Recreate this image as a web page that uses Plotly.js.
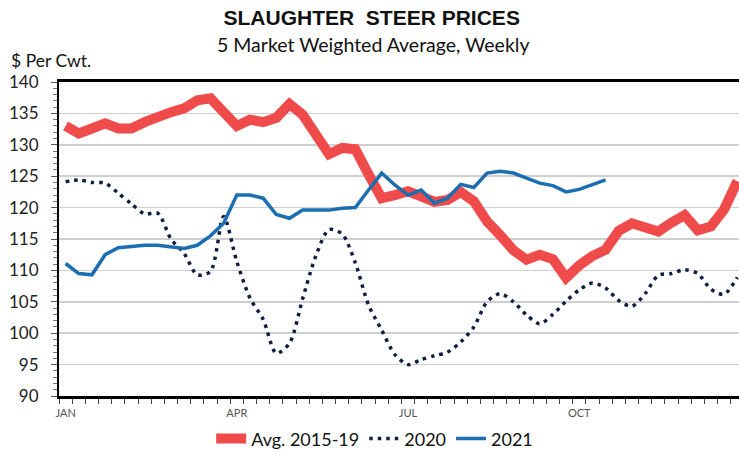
<!DOCTYPE html>
<html><head><meta charset="utf-8">
<script src="https://cdn.plot.ly/plotly-3.0.1.min.js"></script>
<style>body{margin:0;background:#fff}#chart{width:739px;height:452px}</style>
</head><body><div id="chart"></div>
<script>
const weeks = [1,2,3,4,5,6,7,8,9,10,11,12,13,14,15,16,17,18,19,20,21,22,23,24,25,26,
  27,28,29,30,31,32,33,34,35,36,37,38,39,40,41,42,43,44,45,46,47,48,49,50,51,52];
const monthTickWeeks = [1, 14, 27, 40];
const monthTickLabels = ["JAN", "APR", "JUL", "OCT"];

const avg2015_19 = [133.0,131.8,132.6,133.4,132.6,132.6,133.6,134.6,135.2,135.8,137.1,137.4,
  135.2,133.0,134.0,133.6,134.3,136.5,134.8,131.5,128.5,129.5,129.3,125.3,121.5,122.0,
  122.6,121.8,120.9,121.2,122.5,121.0,117.8,115.6,113.2,111.7,112.5,111.8,108.8,110.8,
  112.3,113.3,116.3,117.5,116.8,116.2,117.6,118.8,116.4,117.0,119.7,124.2];
const y2020 = [124.1,124.4,124.0,123.9,122.3,120.6,119.0,119.1,115.0,112.7,109.3,109.8,
  118.6,111.4,105.6,102.2,96.8,98.4,105.5,112.3,116.5,115.8,111.2,104.5,100.5,96.6,
  95.0,95.8,96.4,97.0,98.6,101.0,105.0,106.3,105.0,102.9,101.5,103.0,105.1,106.9,
  108.0,107.2,105.2,104.3,106.3,109.2,109.5,110.1,109.5,107.0,106.2,108.9];
const y2021 = [111.1,109.5,109.3,112.5,113.6,113.8,114.0,114.0,113.8,113.5,114.0,115.5,
  117.5,122.0,122.0,121.5,118.9,118.3,119.6,119.6,119.6,119.9,120.0,122.8,125.5,123.6,
  122.0,122.8,120.7,121.5,123.7,123.2,125.5,125.8,125.5,124.7,123.9,123.5,122.5,122.9,
  123.6,124.4];

const traces = [
  {x: weeks, y: avg2015_19, name: "Avg. 2015-19", type: "scatter", mode: "lines",
   line: {color: "#F04B4B", width: 10}},
  {x: weeks, y: y2020, name: "2020", type: "scatter", mode: "lines",
   line: {color: "#0E1E45", width: 3.5, dash: "3.5px,5px", shape: "spline", smoothing: 0.8}},
  {x: weeks.slice(0, y2021.length), y: y2021, name: "2021", type: "scatter", mode: "lines",
   line: {color: "#1B6EB0", width: 3.5}}
];

const layout = {
  width: 739, height: 452,
  margin: {l: 59, r: 0, t: 82, b: 56},
  paper_bgcolor: "#fff", plot_bgcolor: "#fff",
  showlegend: true,
  font: {family: "Lato, 'Open Sans', sans-serif", color: "#222"},
  title: {text: "SLAUGHTER  STEER PRICES", x: 0.503, xanchor: "center", y: 0.962, yanchor: "middle",
    font: {family: "'Liberation Sans', Arial, sans-serif", size: 21, color: "#111", weight: "bold"}},
  xaxis: {
    range: [0.5, 52.13], showgrid: false, zeroline: false,
    showline: true, linecolor: "#000", linewidth: 3, mirror: true,
    tickmode: "array", tickvals: monthTickWeeks, ticktext: monthTickLabels,
    ticks: "outside", ticklen: 5, tickcolor: "rgba(0,0,0,0)",
    tickfont: {size: 11, color: "#555", family: "Lato, sans-serif"},
    minor: {ticks: "outside", tickmode: "linear", tick0: 0.5, dtick: 1, ticklen: 5, tickcolor: "#444", tickwidth: 1, showgrid: false},
    fixedrange: true
  },
  yaxis: {
    range: [90, 140], dtick: 5, tick0: 90, showgrid: true, gridcolor: "#cfcfcf", gridwidth: 1.5,
    zeroline: false, showline: true, linecolor: "#000", linewidth: 2,
    ticks: "outside", ticklen: 6, tickcolor: "#555", tickwidth: 1,
    minor: {ticks: "outside", tickmode: "linear", tick0: 90, dtick: 1, ticklen: 4, tickcolor: "#777", tickwidth: 1, showgrid: false},
    tickfont: {size: 17, color: "#222", family: "Lato, sans-serif"},
    ticklabelstandoff: 9,
    fixedrange: true
  },
  legend: {orientation: "h", xref: "container", yref: "container", x: 0.507, xanchor: "center",
    y: 0.029, yanchor: "middle", font: {size: 18, color: "#111", family: "Lato, sans-serif"},
    itemwidth: 30, traceorder: "normal"},
  annotations: [
    {text: "5 Market Weighted Average, Weekly", xref: "paper", yref: "paper",
     x: (373 - 59) / 680, y: (396 - 44) / 314, xanchor: "center", yanchor: "middle", showarrow: false,
     font: {size: 19.5, color: "#111", family: "Lato, sans-serif"}},
    {text: "$ Per Cwt.", xref: "paper", yref: "paper", x: (9 - 59) / 680, y: (396 - 60) / 314,
     xanchor: "left", yanchor: "middle", showarrow: false,
     font: {size: 17.5, color: "#111", family: "Lato, sans-serif"}}
  ]
};

Plotly.newPlot("chart", traces, layout, {displayModeBar: false, staticPlot: true});
</script>
</body></html>
